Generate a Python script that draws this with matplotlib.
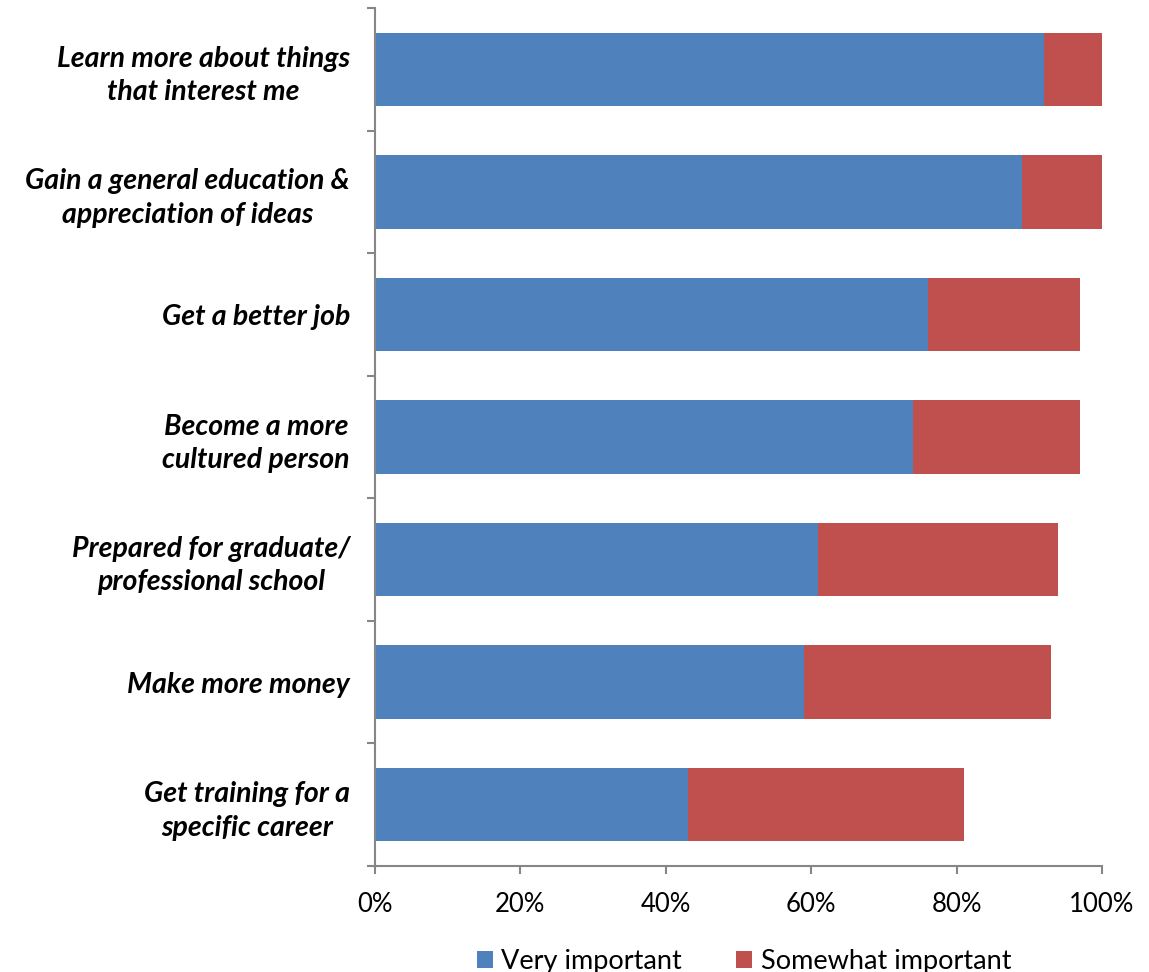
import matplotlib.pyplot as plt
import numpy as np
from matplotlib.ticker import PercentFormatter

plt.rcParams['font.family'] = ['Lato', 'DejaVu Sans']

categories = [
    'Learn more about things\nthat interest me',
    'Gain a general education &\nappreciation of ideas',
    'Get a better job',
    'Become a more\ncultured person',
    'Prepared for graduate/\nprofessional school',
    'Make more money',
    'Get training for a\nspecific career',
]
very_important = [92, 89, 76, 74, 61, 59, 43]
somewhat_important = [8, 11, 21, 23, 33, 34, 38]

blue = '#4F81BD'
red = '#C0504D'
axis_gray = '#868686'

fig = plt.figure(figsize=(11.49, 9.72), dpi=100)
ax = fig.add_axes([375 / 1149, 1 - 866 / 972, 727 / 1149, 858 / 972])

y = np.arange(len(categories))
ax.barh(y, very_important, height=0.6, color=blue, label='Very important')
ax.barh(y, somewhat_important, left=very_important, height=0.6, color=red,
        label='Somewhat important')

ax.set_xlim(0, 100)
ax.set_ylim(len(categories) - 0.5, -0.5)
ax.xaxis.set_major_formatter(PercentFormatter(decimals=0))
ax.set_xticks(np.arange(0, 101, 20))

# category labels centred between boundary ticks
ax.set_yticks(y)
ax.set_yticklabels(categories, fontsize=20.5, fontweight='bold', fontstyle='italic',
                   multialignment='center', linespacing=1.35)
ax.tick_params(axis='y', length=0, pad=18)
ax.set_yticks(np.arange(-0.5, len(categories)), minor=True)
ax.tick_params(axis='y', which='minor', length=6, color=axis_gray, width=1.5)
ax.tick_params(axis='x', length=6, color=axis_gray, width=1.5, labelsize=18.5, pad=13)

for s in ['top', 'right']:
    ax.spines[s].set_visible(False)
for s in ['left', 'bottom']:
    ax.spines[s].set_color(axis_gray)
    ax.spines[s].set_linewidth(1.5)

fig.legend(loc='lower center', bbox_to_anchor=(744 / 1149, -0.027), ncol=2,
           frameon=False, fontsize=19.5, handlelength=0.6, handleheight=0.6,
           handletextpad=0.3, columnspacing=2.0)

fig.savefig('out.png', dpi=100)
